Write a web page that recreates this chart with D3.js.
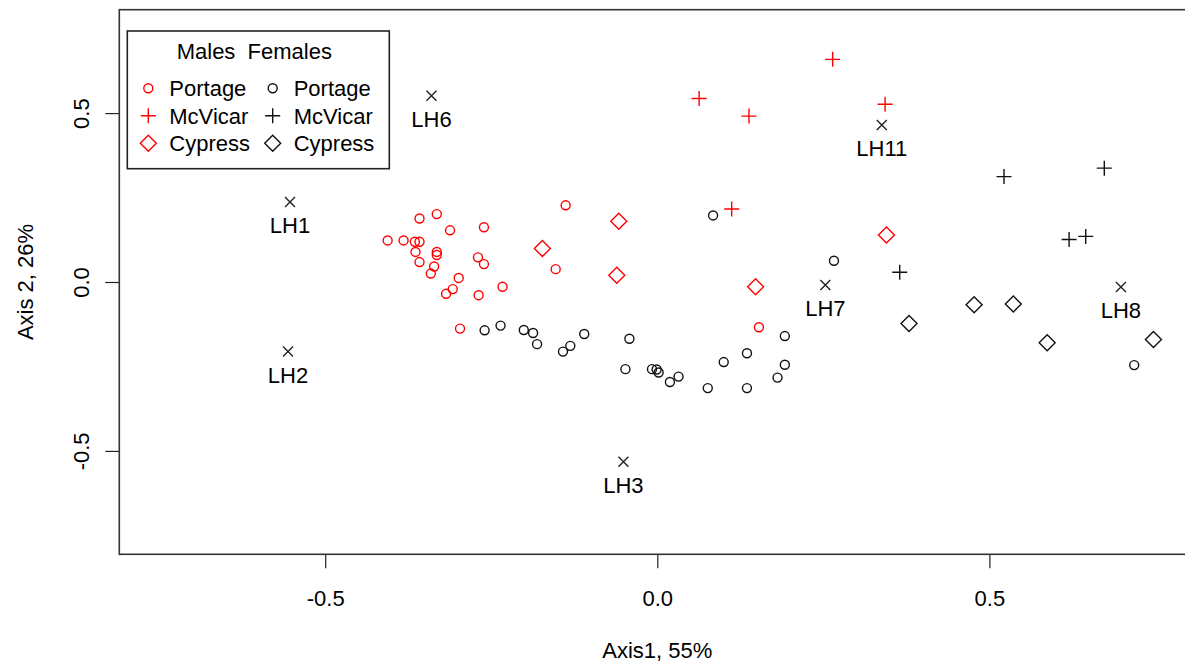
<!DOCTYPE html>
<html>
<head>
<meta charset="utf-8">
<script src="https://cdn.jsdelivr.net/npm/d3@7"></script>
<style>
  body { margin: 0; background: #fff; }
  svg { display: block; font-family: "Liberation Sans", Arial, sans-serif; }
</style>
</head>
<body>
<div id="chart"></div>
<script>
// ---- data (axis 1, axis 2 scores) ----
const malePortage = [
  [-0.138, 0.227], [-0.358, 0.188], [-0.332, 0.201], [-0.312, 0.153], [-0.261, 0.162],
  [-0.406, 0.123], [-0.382, 0.123], [-0.365, 0.119], [-0.358, 0.119], [-0.364, 0.089],
  [-0.332, 0.089], [-0.332, 0.080], [-0.358, 0.059], [-0.336, 0.046], [-0.341, 0.025],
  [-0.270, 0.073], [-0.261, 0.053], [-0.153, 0.038], [-0.299, 0.012], [-0.308, -0.021],
  [-0.318, -0.035], [-0.233, -0.014], [-0.269, -0.039], [-0.297, -0.138], [0.153, -0.134]
];
const maleMcVicar = [
  [0.264, 0.659], [0.063, 0.543], [0.138, 0.491], [0.343, 0.526], [0.112, 0.216]
];
const maleCypress = [
  [-0.173, 0.099], [-0.058, 0.180], [-0.061, 0.020], [0.148, -0.014], [0.345, 0.139]
];
const femalePortage = [
  [-0.260, -0.143], [-0.236, -0.129], [-0.201, -0.142], [-0.187, -0.151], [-0.181, -0.184],
  [-0.142, -0.206], [-0.131, -0.189], [-0.110, -0.154], [-0.042, -0.168], [-0.048, -0.258],
  [-0.008, -0.258], [-0.001, -0.259], [0.002, -0.268], [0.019, -0.296], [0.032, -0.280],
  [0.076, -0.314], [0.100, -0.237], [0.135, -0.211], [0.135, -0.314], [0.181, -0.283],
  [0.192, -0.245], [0.192, -0.160], [0.084, 0.197], [0.266, 0.063], [0.718, -0.246]
];
const femaleMcVicar = [
  [0.365, 0.029], [0.522, 0.312], [0.673, 0.337], [0.620, 0.126], [0.645, 0.135]
];
const femaleCypress = [
  [0.379, -0.123], [0.477, -0.067], [0.536, -0.065], [0.587, -0.180], [0.747, -0.170]
];
const lhNames = ["LH1", "LH2", "LH3", "LH6", "LH7", "LH8", "LH11"];
const lhScores = [
  [-0.553, 0.237], [-0.556, -0.206], [-0.051, -0.532], [-0.340, 0.551],
  [0.253, -0.009], [0.698, -0.015], [0.338, 0.465]
];
const xTicks = [-0.5, 0.0, 0.5];
const yTicks = [-0.5, 0.0, 0.5];
const legendSexes = ["Males", "Females"];
const legendSites = ["Portage", "McVicar", "Cypress"];

// ---- layout ----
const width = 1185;
const height = 665;
const margin = {left: 119.3, top: 9.7};
const plotW = 1076;
const plotH = 544.6;
const red = "#ff0000";
const black = "#111";

const svg = d3.select("#chart").append("svg")
  .attr("width", width)
  .attr("height", height);

const xScale = d3.scaleLinear().domain([-0.810, 0.810]).range([margin.left, margin.left + plotW]);
const yScale = d3.scaleLinear().domain([-0.806, 0.806]).range([margin.top + plotH, margin.top]);

// glyph shapes, drawn round the origin
const shapes = {
  circle: () => { const p = d3.path(); p.arc(0, 0, 4.5, 0, 2 * Math.PI); return p.toString(); },
  plus: () => "M-7.5,0H7.5M0,-7.5V7.5",
  diamond: () => "M0,-8L8,0L0,8L-8,0Z",
  cross: () => "M-5,-5L5,5M-5,5L5,-5"
};

const drawPoints = (data, shape, color) => {
  svg.append("g")
    .selectAll("path")
    .data(data)
    .join("path")
      .attr("transform", d => `translate(${xScale(d[0])},${yScale(d[1])})`)
      .attr("d", shapes[shape]())
      .attr("fill", "none")
      .attr("stroke", color)
      .attr("stroke-width", 1.4);
};

// ---- axes ----
const bottomAxis = d3.axisBottom(xScale)
  .tickValues(xTicks)
  .tickSize(14)
  .tickPadding(22)
  .tickFormat(d => d.toFixed(1));
const gx = svg.append("g")
  .attr("transform", `translate(0, ${margin.top + plotH})`)
  .call(bottomAxis);
gx.select(".domain").remove();
gx.selectAll("line").attr("stroke", "#222").attr("stroke-width", 1.2);
gx.selectAll("text").attr("font-size", 22).attr("fill", "#000").attr("font-family", null);

const leftAxis = d3.axisLeft(yScale)
  .tickValues(yTicks)
  .tickSize(14)
  .tickFormat(d => d.toFixed(1));
const gy = svg.append("g")
  .attr("transform", `translate(${margin.left}, 0)`)
  .call(leftAxis);
gy.select(".domain").remove();
gy.selectAll("line").attr("stroke", "#222").attr("stroke-width", 1.2);
gy.selectAll("text")
  .attr("font-size", 22)
  .attr("fill", "#000")
  .attr("font-family", null)
  .attr("text-anchor", "middle")
  .attr("transform", "rotate(-90)")
  .attr("x", 0)
  .attr("y", -38)
  .attr("dy", "0.35em");

// axis titles
svg.append("text")
  .attr("x", xScale(0))
  .attr("y", 658)
  .attr("text-anchor", "middle")
  .attr("font-size", 22)
  .text("Axis1, 55%");
svg.append("text")
  .attr("transform", `translate(33, ${yScale(0)}) rotate(-90)`)
  .attr("text-anchor", "middle")
  .attr("font-size", 22)
  .text("Axis 2, 26%");

// plot box
svg.append("rect")
  .attr("x", margin.left)
  .attr("y", margin.top)
  .attr("width", plotW)
  .attr("height", plotH)
  .attr("fill", "none")
  .attr("stroke", "#333")
  .attr("stroke-width", 1.6);

// ---- points ----
drawPoints(malePortage, "circle", red);
drawPoints(maleMcVicar, "plus", red);
drawPoints(maleCypress, "diamond", red);
drawPoints(femalePortage, "circle", black);
drawPoints(femaleMcVicar, "plus", black);
drawPoints(femaleCypress, "diamond", black);
drawPoints(lhScores, "cross", "#222");

svg.append("g")
  .selectAll("text")
  .data(lhScores)
  .join("text")
    .attr("x", d => xScale(d[0]))
    .attr("y", d => yScale(d[1]) + 23.5)
    .attr("dy", "0.35em")
    .attr("text-anchor", "middle")
    .attr("font-size", 22)
    .text((d, i) => lhNames[i]);

// ---- legend ----
const legend = svg.append("g");
legend.append("rect")
  .attr("x", 127.3)
  .attr("y", 31)
  .attr("width", 262)
  .attr("height", 137.7)
  .attr("fill", "#fff")
  .attr("stroke", "#222")
  .attr("stroke-width", 1.6);
legend.append("text")
  .attr("x", 176.7)
  .attr("y", 58.5)
  .attr("font-size", 22)
  .style("white-space", "pre")
  .text(legendSexes.join("  "));

const legendShapes = ["circle", "plus", "diamond"];
const legendColors = [red, black];
const rowY = d3.scalePoint().domain(legendSites).range([88.3, 143.3]);
const colX = d3.scalePoint().domain(legendSexes).range([148.3, 272.7]);
legendSexes.forEach((sex, j) => {
  legendSites.forEach((site, i) => {
    legend.append("path")
      .attr("transform", `translate(${colX(sex)},${rowY(site)})`)
      .attr("d", shapes[legendShapes[i]]())
      .attr("fill", "none")
      .attr("stroke", legendColors[j])
      .attr("stroke-width", 1.4);
    legend.append("text")
      .attr("x", colX(sex) + 21)
      .attr("y", rowY(site))
      .attr("dy", "0.35em")
      .attr("font-size", 22)
      .text(site);
  });
});
</script>
</body>
</html>
